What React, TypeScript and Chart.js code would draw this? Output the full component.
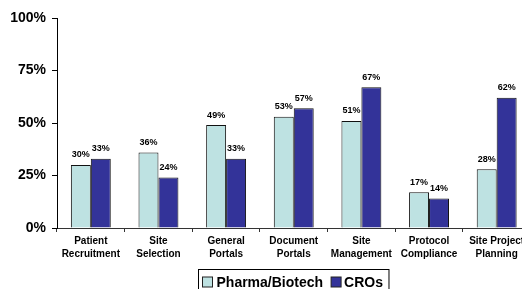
import React, { useEffect, useRef } from "react";
import { Chart, registerables } from "chart.js";

Chart.register(...registerables);

const categories: string[][] = [
  ["Patient", "Recruitment"],
  ["Site", "Selection"],
  ["General", "Portals"],
  ["Document", "Portals"],
  ["Site", "Management"],
  ["Protocol", "Compliance"],
  ["Site Project", "Planning"],
];
const pharmaValues = [30, 36, 49, 53, 51, 17, 28];
const croValues = [33, 24, 33, 57, 67, 14, 62];
const yTicks = [0, 25, 50, 75, 100];
const seriesNames = ["Pharma/Biotech", "CROs"];

const LIGHT = "#BEE2E2";
const DARK = "#333399";
const FONT = "'Liberation Sans', Arial, sans-serif";

const valueLabels = {
  id: "valueLabels",
  afterDatasetsDraw(chart: any) {
    const ctx = chart.ctx;
    ctx.save();
    ctx.font = `bold 9px ${FONT}`;
    ctx.fillStyle = "#000";
    ctx.textAlign = "center";
    ctx.textBaseline = "middle";
    chart.data.datasets.forEach((ds: any, di: number) => {
      const meta = chart.getDatasetMeta(di);
      meta.data.forEach((el: any, i: number) => {
        ctx.fillText(ds.data[i] + "%", el.x, el.y - 10);
      });
    });
    ctx.restore();
  },
};

const boxedLegend = {
  id: "boxedLegend",
  afterDraw(chart: any) {
    const ctx = chart.ctx;
    const area = chart.chartArea;
    ctx.save();
    ctx.font = `bold 14px ${FONT}`;
    const w0 = ctx.measureText(seriesNames[0]).width;
    const w1 = ctx.measureText(seriesNames[1]).width;
    const box = 10;
    const total = 4 + box + 4 + w0 + 8 + box + 3 + w1 + 6;
    const cx = (area.left + area.right) / 2 - 1;
    const left = Math.round(cx - total / 2) + 0.5;
    const top = 269.5;
    ctx.strokeStyle = "#000";
    ctx.lineWidth = 1;
    ctx.strokeRect(left, top, total, 40);
    let x = left + 4;
    const cy = 282;
    const colors = [LIGHT, DARK];
    const widths = [w0, w1];
    for (let i = 0; i < 2; i++) {
      ctx.fillStyle = colors[i];
      ctx.fillRect(x, cy - box / 2, box, box);
      ctx.strokeStyle = "#222";
      ctx.strokeRect(x, cy - box / 2, box, box);
      x += box + (i === 0 ? 4 : 3);
      ctx.fillStyle = "#000";
      ctx.textAlign = "left";
      ctx.textBaseline = "middle";
      ctx.fillText(seriesNames[i], x, cy + 1);
      x += widths[i] + 8;
    }
    ctx.restore();
  },
};

export default function App() {
  const ref = useRef<HTMLCanvasElement | null>(null);
  useEffect(() => {
    document.body.style.margin = "0";
    document.body.style.overflow = "hidden";
    const canvas = ref.current!;
    const chart = new Chart(canvas, {
      type: "bar",
      data: {
        labels: categories,
        datasets: [
          {
            label: seriesNames[0],
            data: pharmaValues,
            backgroundColor: LIGHT,
            borderColor: "#111",
            borderWidth: 1,
            borderSkipped: "bottom",
          },
          {
            label: seriesNames[1],
            data: croValues,
            backgroundColor: DARK,
            borderColor: "#111",
            borderWidth: 1,
            borderSkipped: "bottom",
          },
        ],
      },
      options: {
        animation: false,
        responsive: false,
        devicePixelRatio: 1,
        layout: { padding: { top: 18, right: 9.5, bottom: 0, left: 0 } },
        plugins: {
          legend: { display: false },
          tooltip: { enabled: false },
        },
        datasets: {
          bar: { categoryPercentage: 0.59, barPercentage: 1 },
        },
        scales: {
          x: {
            offset: true,
            grid: {
              offset: true,
              drawOnChartArea: false,
              drawTicks: true,
              tickLength: 4,
              color: "#333",
            },
            border: { color: "#333", width: 1 },
            ticks: {
              color: "#000",
              font: { family: FONT, size: 10, weight: "bold", lineHeight: 1.27 },
              maxRotation: 0,
              autoSkip: false,
              padding: 3,
            },
            afterFit: (s: any) => {
              s.height = 61;
            },
          },
          y: {
            min: 0,
            max: 100,
            afterBuildTicks: (s: any) => {
              s.ticks = yTicks.map((v) => ({ value: v }));
            },
            grid: {
              drawOnChartArea: false,
              drawTicks: true,
              tickLength: 5,
              color: "#000",
            },
            border: { color: "#000", width: 1 },
            ticks: {
              color: "#000",
              font: { family: FONT, size: 14, weight: "bold" },
              padding: 6,
              callback: (v: any) => v + "%",
            },
            afterFit: (s: any) => {
              s.width = 57;
            },
          },
        },
      },
      plugins: [valueLabels, boxedLegend],
    } as any);
    return () => chart.destroy();
  }, []);
  return (
    <div
      style={{
        position: "fixed",
        left: 0,
        top: 0,
        width: 522,
        height: 289,
        overflow: "hidden",
        background: "#fff",
      }}
    >
      <canvas ref={ref} width={540} height={289} style={{ display: "block" }} />
    </div>
  );
}
